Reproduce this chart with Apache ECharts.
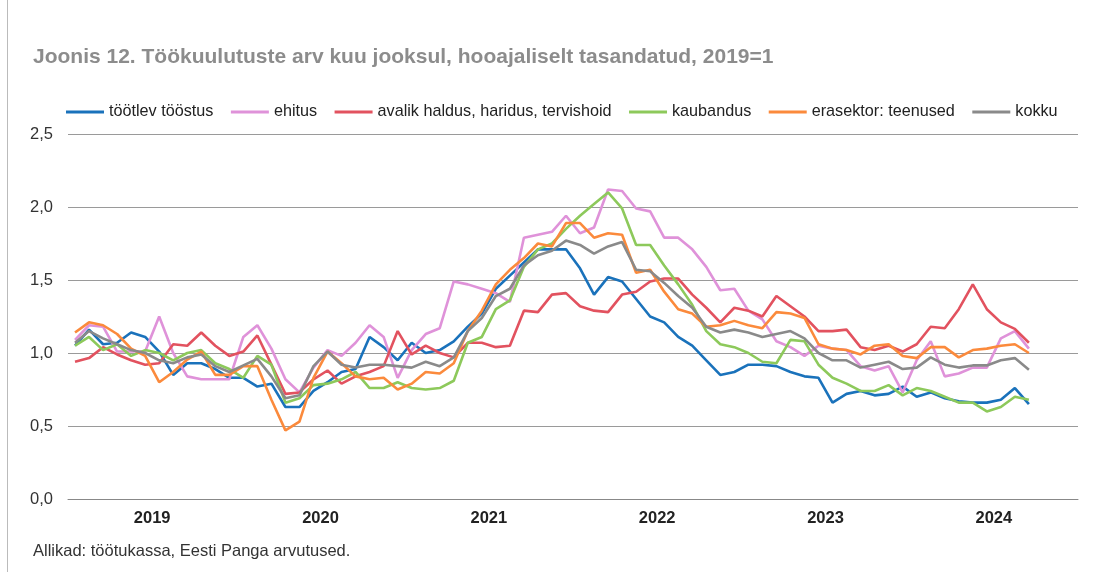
<!DOCTYPE html>
<html>
<head>
<meta charset="utf-8">
<script src="https://cdn.jsdelivr.net/npm/echarts@6/dist/echarts.min.js"></script>
<style>
  html, body { margin: 0; padding: 0; background: #fff; }
  #chart { width: 1095px; height: 572px; }
</style>
</head>
<body>
<div id="chart"></div>
<script>
// months Jan 2019 .. Dec 2024 (data ends Sep 2024)
var years = ['2019', '2020', '2021', '2022', '2023', '2024']
var months = []
years.forEach(function (y) {
  for (var m = 1; m <= 12; m++) months.push(y + '-' + (m < 10 ? '0' + m : m))
})

var tootlevTööstus = [
  1.05, 1.16, 1.06, 1.07, 1.14, 1.11, 1.01, 0.85, 0.93, 0.93, 0.89, 0.83,
  0.83, 0.77, 0.79, 0.63, 0.63, 0.74, 0.80, 0.87, 0.89, 1.11, 1.04, 0.95,
  1.07, 1.00, 1.02, 1.08, 1.18, 1.27, 1.44, 1.53, 1.62, 1.71, 1.71, 1.71,
  1.58, 1.40, 1.52, 1.49, 1.37, 1.25, 1.21, 1.11, 1.05, 0.95, 0.85, 0.87,
  0.92, 0.92, 0.91, 0.87, 0.84, 0.83, 0.66, 0.72, 0.74, 0.71, 0.72, 0.77,
  0.70, 0.73, 0.69, 0.67, 0.66, 0.66, 0.68, 0.76, 0.65
]
var ehitus = [
  1.09, 1.19, 1.18, 1.01, 1.01, 1.01, 1.25, 1.00, 0.84, 0.82, 0.82, 0.82,
  1.11, 1.19, 1.03, 0.82, 0.73, 0.90, 1.02, 0.98, 1.07, 1.19, 1.11, 0.83,
  1.02, 1.13, 1.17, 1.49, 1.47, 1.44, 1.41, 1.35, 1.79, 1.81, 1.83, 1.94,
  1.82, 1.86, 2.12, 2.11, 1.99, 1.97, 1.79, 1.79, 1.71, 1.59, 1.43, 1.44,
  1.29, 1.23, 1.08, 1.04, 0.98, 1.05, 1.03, 1.02, 0.91, 0.88, 0.91, 0.73,
  0.95, 1.08, 0.84, 0.86, 0.90, 0.90, 1.10, 1.15, 1.03
]
var avalikHaldus = [
  0.94, 0.965, 1.04, 0.99, 0.95, 0.92, 0.93, 1.06, 1.05, 1.14, 1.05, 0.98,
  1.01, 1.12, 0.92, 0.72, 0.73, 0.82, 0.88, 0.79, 0.84, 0.87, 0.91, 1.15,
  0.99, 1.05, 1.00, 0.97, 1.07, 1.07, 1.04, 1.05, 1.29, 1.28, 1.40, 1.41,
  1.32, 1.29, 1.28, 1.40, 1.42, 1.49, 1.51, 1.51, 1.40, 1.31, 1.21, 1.31,
  1.29, 1.25, 1.39, 1.32, 1.25, 1.15, 1.15, 1.16, 1.04, 1.02, 1.05, 1.01,
  1.06, 1.18, 1.17, 1.30, 1.47, 1.30, 1.21, 1.165, 1.07
]
var kaubandus = [
  1.05, 1.11, 1.02, 1.06, 0.98, 1.02, 1.00, 0.95, 1.00, 1.02, 0.93, 0.89,
  0.83, 0.98, 0.92, 0.66, 0.69, 0.78, 0.79, 0.82, 0.87, 0.76, 0.76, 0.80,
  0.76, 0.75, 0.76, 0.81, 1.07, 1.11, 1.30, 1.36, 1.59, 1.71, 1.75, 1.85,
  1.94, 2.02, 2.10, 1.99, 1.74, 1.74, 1.60, 1.47, 1.33, 1.15, 1.06, 1.04,
  1.00, 0.94, 0.93, 1.09, 1.08, 0.92, 0.83, 0.79, 0.74, 0.74, 0.78, 0.71,
  0.76, 0.74, 0.70, 0.66, 0.66, 0.60, 0.63, 0.70, 0.68
]
var erasektorTeenused = [
  1.14, 1.21, 1.19, 1.13, 1.03, 0.98, 0.80, 0.87, 0.955, 1.01, 0.85, 0.85,
  0.91, 0.91, 0.68, 0.47, 0.53, 0.83, 1.01, 0.93, 0.84, 0.82, 0.83, 0.75,
  0.79, 0.87, 0.86, 0.93, 1.15, 1.29, 1.47, 1.57, 1.65, 1.75, 1.73, 1.89,
  1.89, 1.79, 1.82, 1.81, 1.55, 1.57, 1.42, 1.30, 1.27, 1.18, 1.19, 1.22,
  1.19, 1.17, 1.28, 1.27, 1.24, 1.06, 1.03, 1.02, 0.99, 1.05, 1.06, 0.98,
  0.965, 1.04, 1.04, 0.97, 1.02, 1.03, 1.05, 1.06, 1.00
]
var kokku = [
  1.07, 1.15, 1.10, 1.06, 1.02, 1.00, 0.95, 0.93, 0.97, 0.99, 0.91, 0.87,
  0.915, 0.96, 0.84, 0.69, 0.71, 0.91, 1.01, 0.92, 0.90, 0.92, 0.92, 0.91,
  0.90, 0.94, 0.91, 0.97, 1.15, 1.24, 1.39, 1.44, 1.60, 1.67, 1.70, 1.77,
  1.74, 1.68, 1.73, 1.76, 1.57, 1.56, 1.48, 1.39, 1.31, 1.18, 1.14, 1.16,
  1.14, 1.11, 1.13, 1.15, 1.10, 1.00, 0.95, 0.95, 0.90, 0.92, 0.94, 0.89,
  0.90, 0.97, 0.92, 0.90, 0.915, 0.915, 0.95, 0.965, 0.885
]

var seriesDefs = [
  { name: 'töötlev tööstus', data: tootlevTööstus, color: '#1a72bb' },
  { name: 'ehitus', data: ehitus, color: '#df92d9' },
  { name: 'avalik haldus, haridus, tervishoid', data: avalikHaldus, color: '#e2525f' },
  { name: 'kaubandus', data: kaubandus, color: '#8dc95b' },
  { name: 'erasektor: teenused', data: erasektorTeenused, color: '#fb8a3c' },
  { name: 'kokku', data: kokku, color: '#8a8a8a' }
]

var font = 'Liberation Sans, Arial, sans-serif'
var chart = echarts.init(document.getElementById('chart'))

chart.setOption({
  animation: false,
  textStyle: { fontFamily: font },
  title: {
    text: 'Joonis 12. Töökuulutuste arv kuu jooksul, hooajaliselt tasandatud, 2019=1',
    left: 28,
    top: 42,
    textStyle: { fontSize: 21, fontWeight: 'bold', color: '#8c8c8c', fontFamily: font }
  },
  legend: {
    left: 61,
    top: 99,
    icon: 'rect',
    itemWidth: 38,
    itemHeight: 3,
    itemGap: 17.5,
    textStyle: { fontSize: 16.2, color: '#222', fontFamily: font },
    data: seriesDefs.map(function (s) { return s.name })
  },
  grid: { left: 68, right: 17, top: 134, bottom: 73 },
  xAxis: {
    type: 'category',
    data: months,
    boundaryGap: true,
    axisLine: { lineStyle: { color: '#888', width: 1 } },
    axisTick: {
      length: 6,
      lineStyle: { color: '#888' },
      interval: function (i) { return i % 12 === 0 }
    },
    axisLabel: {
      interval: function (i) { return i % 12 === 6 },
      formatter: function (v) { return v.slice(0, 4) },
      fontSize: 16.5,
      fontWeight: 'bold',
      color: '#222',
      margin: 11,
      padding: [0, 14, 0, 0]
    }
  },
  yAxis: {
    type: 'value',
    min: 0,
    max: 2.5,
    interval: 0.5,
    axisLine: { show: false },
    axisTick: { show: false },
    splitLine: { lineStyle: { color: '#9a9a9a', width: 1 } },
    axisLabel: {
      fontSize: 16.5,
      color: '#333',
      margin: 15,
      formatter: function (v) { return v.toFixed(1).replace('.', ',') }
    }
  },
  graphic: [
    { type: 'line', shape: { x1: 7.5, y1: 0, x2: 7.5, y2: 572 }, style: { stroke: '#bbb', lineWidth: 1 } },
    {
      type: 'text', left: 33, top: 543,
      style: { text: 'Allikad: töötukassa, Eesti Panga arvutused.', font: '16.5px ' + font, fill: '#333' }
    }
  ],
  series: seriesDefs.map(function (s) {
    return {
      name: s.name,
      type: 'line',
      data: s.data,
      symbol: 'none',
      color: s.color,
      lineStyle: { width: 2.6, color: s.color }
    }
  })
})
</script>
</body>
</html>
